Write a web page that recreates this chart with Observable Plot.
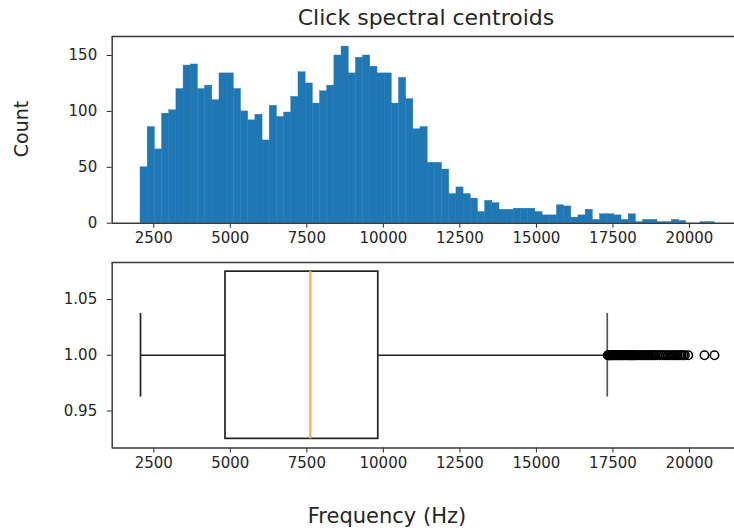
<!DOCTYPE html>
<html>
<head>
<meta charset="utf-8">
<script src="https://cdn.jsdelivr.net/npm/d3@7"></script>
<script src="https://cdn.jsdelivr.net/npm/@observablehq/plot@0.6"></script>
<style>
  html, body { margin: 0; padding: 0; background: #fff; overflow: hidden; }
  #wrap { position: relative; width: 734px; height: 532px; overflow: hidden; background: #fff; font-family: "DejaVu Sans", sans-serif; color: #262626; }
  .lbl { position: absolute; white-space: nowrap; line-height: 1; }
  .panel { position: absolute; left: 0; }
</style>
</head>
<body>
<div id="wrap">
  <div class="lbl" id="title" style="left:226px;width:400px;text-align:center;top:7px;font-size:22px;">Click spectral centroids</div>
  <div class="lbl" id="ylab" style="left:21px;top:129px;font-size:19px;transform:translate(-50%,-50%) rotate(-90deg);">Count</div>
  <div class="lbl" id="xlab" style="left:387px;top:516px;font-size:21px;transform:translate(-50%,-50%);">Frequency (Hz)</div>
  <div class="panel" id="top" style="top:0px;"></div>
  <div class="panel" id="bottom" style="top:255px;"></div>
</div>
<script>
// ---- data ----
const histCounts = [
  50, 86, 66, 98, 101, 120, 141, 142, 120, 123,
  110, 134, 134, 120, 100, 92, 97, 74, 105, 95,
  99, 113, 135, 125, 107, 118, 123, 150, 158, 134,
  148, 150, 140, 134, 134, 107, 130, 111, 84, 86,
  54, 54, 48, 26, 32, 26, 22, 10, 20, 18,
  12, 12, 13, 13, 13, 10, 7, 7, 16, 15,
  5, 7, 12, 3, 8, 8, 7, 3, 8, 1,
  3, 3, 1, 1, 3, 2, 0, 0, 1, 1
];
const histRange = [2066, 20830];          // min and max of the data (80 bins)
const quartiles = [4842, 7612, 9833];     // Q1, median, Q3
const whiskers = [2066, 17314];           // low, high whisker
const outliers = [
  17330, 17350, 17370, 17390, 17410, 17430, 17450, 17480, 17510, 17540,
  17570, 17600, 17630, 17660, 17690, 17720, 17750, 17780, 17810, 17850,
  17890, 17930, 17970, 18010, 18040, 18070, 18100, 18130, 18160, 18190,
  18220, 18250, 18300, 18350, 18400, 18450, 18500, 18550, 18600, 18650,
  18700, 18750, 18800, 18850, 18900, 18960, 19020, 19090, 19160, 19230,
  19300, 19370, 19440, 19500, 19560, 19620, 19680, 19740, 19800, 19850,
  19960, 20490, 20817
];
const xTicks = [2500, 5000, 7500, 10000, 12500, 15000, 17500, 20000];
const countTicks = [0, 50, 100, 150];
const boxTicks = [0.95, 1.00, 1.05];

// ---- derived tables ----
const binWidth = (histRange[1] - histRange[0]) / histCounts.length;
const bins = histCounts.map((c, i) => ({
  x1: histRange[0] + i * binWidth,
  x2: histRange[0] + (i + 1) * binWidth,
  count: c
}));

const W = 734;
const xDomain = [1141, 21471];
const frameColor = "#3a3a3a";
const lineW = 1.5;
const fontStyle = { fontFamily: "DejaVu Sans, sans-serif", fontSize: "15px", color: "#262626", background: "transparent", overflow: "visible" };

const yDomTop = [0, 167];
const topPlot = Plot.plot({
  width: W, height: 255,
  marginLeft: 111.7, marginRight: 0, marginTop: 36, marginBottom: 32.3,
  style: fontStyle,
  x: { domain: xDomain, ticks: xTicks, tickFormat: d3.format("d"), tickSize: 5, tickPadding: 4, label: null },
  y: { domain: yDomTop, ticks: countTicks, tickFormat: d3.format("d"), tickSize: 5, tickPadding: 10, label: null },
  marks: [
    Plot.rectY(bins, { x1: "x1", x2: "x2", y: "count", fill: "#1f77b4", stroke: "#1f77b4", strokeWidth: 0.4 }),
    Plot.ruleY([yDomTop[1]], { stroke: frameColor, strokeWidth: lineW }),
    Plot.ruleY([0], { stroke: frameColor, strokeWidth: lineW }),
    Plot.ruleX([xDomain[0]], { stroke: frameColor, strokeWidth: lineW })
  ]
});
document.getElementById("top").appendChild(topPlot);

const yDomBox = [0.9168, 1.0832];
const boxRow = [{ q1: quartiles[0], med: quartiles[1], q3: quartiles[2], lo: whiskers[0], hi: whiskers[1] }];
const bottomPlot = Plot.plot({
  width: W, height: 277,
  marginLeft: 111.7, marginRight: 0, marginTop: 7, marginBottom: 84.5,
  style: fontStyle,
  x: { domain: xDomain, ticks: xTicks, tickFormat: d3.format("d"), tickSize: 5, tickPadding: 4, label: null },
  y: { domain: yDomBox, ticks: boxTicks, tickFormat: d3.format(".2f"), tickSize: 5, tickPadding: 10, label: null },
  marks: [
    // whiskers
    Plot.ruleY(boxRow, { x1: "lo", x2: "q1", y: () => 1, stroke: "#222", strokeWidth: 1.7 }),
    Plot.ruleY(boxRow, { x1: "q3", x2: "hi", y: () => 1, stroke: "#222", strokeWidth: 1.7 }),
    // caps
    Plot.ruleX(boxRow, { x: "lo", y1: () => 0.9625, y2: () => 1.0375, stroke: "#222", strokeWidth: 1.7 }),
    Plot.ruleX(boxRow, { x: "hi", y1: () => 0.9625, y2: () => 1.0375, stroke: "#555", strokeWidth: 1.7 }),
    // box
    Plot.rect(boxRow, { x1: "q1", x2: "q3", y1: () => 0.925, y2: () => 1.075, fill: "none", stroke: "#222", strokeWidth: 1.7 }),
    // median
    Plot.ruleX(boxRow, { x: "med", y1: () => 0.925, y2: () => 1.075, stroke: "#ffac6a", strokeWidth: 2.4 }),
    // outliers
    Plot.dot(outliers, { x: d => d, y: () => 1, r: 4.2, fill: "none", stroke: "#000", strokeWidth: 1.6 }),
    // frame
    Plot.ruleY([yDomBox[1]], { stroke: frameColor, strokeWidth: lineW }),
    Plot.ruleY([yDomBox[0]], { stroke: frameColor, strokeWidth: lineW }),
    Plot.ruleX([xDomain[0]], { stroke: frameColor, strokeWidth: lineW })
  ]
});
document.getElementById("bottom").appendChild(bottomPlot);
</script>
</body>
</html>
